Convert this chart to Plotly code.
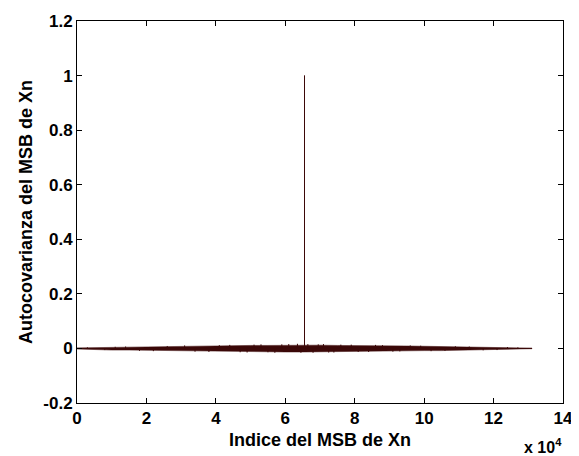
import plotly.graph_objects as go

# ---- data ----
# main autocovariance series key points (index, value)
series_x = [1, 65535, 65536, 65537, 131071]
series_y = [0.0, 0.0, 1.0, 0.0, 0.0]

# envelope of the dense noise band around zero (estimated)
band_x = [1, 5000, 10000, 15000, 20000, 25000, 30000, 35000, 40000, 45000,
          50000, 55000, 60000, 65536, 70000, 75000, 80000, 85000, 90000,
          95000, 100000, 105000, 110000, 115000, 120000, 125000, 131071]
band_hi = [0.002, 0.003, 0.004, 0.006, 0.006, 0.007, 0.008, 0.009, 0.010, 0.010,
           0.011, 0.011, 0.012, 0.012, 0.012, 0.011, 0.011, 0.010, 0.009,
           0.009, 0.008, 0.007, 0.006, 0.005, 0.004, 0.003, 0.001]
band_lo = [-0.002, -0.004, -0.006, -0.006, -0.007, -0.008, -0.009, -0.010, -0.010, -0.011,
           -0.012, -0.012, -0.013, -0.013, -0.013, -0.012, -0.011, -0.011, -0.010,
           -0.009, -0.008, -0.008, -0.007, -0.006, -0.005, -0.003, -0.001]

# isolated excursions sticking out of the band (estimated)
out_x = [3000, 8000, 11000, 14000, 18000, 22000, 26000, 31000, 34000, 38000, 41000,
         44000, 47000, 49000, 51000, 53000, 55000, 57000, 59000, 61000, 63500, 64500,
         66500, 68000, 69500, 71000, 72500, 74000, 76000, 79000, 81000, 84000, 86000,
         88000, 91000, 93000, 96000, 99000, 102000, 106000, 109000, 113000, 117000,
         121000, 124000, 127000]
out_y = [0.004, -0.006, 0.006, 0.007, -0.009, -0.010, 0.009, 0.011, -0.012, -0.013, 0.012,
         0.013, -0.014, -0.015, 0.014, 0.015, -0.014, -0.016, 0.015, 0.016, 0.017, -0.016,
         0.016, -0.016, 0.015, 0.016, -0.015, -0.015, 0.014, 0.014, -0.013, -0.013, 0.013,
         0.012, -0.012, -0.011, 0.011, 0.010, -0.010, -0.009, 0.008, 0.007, -0.007,
         -0.006, 0.005, 0.004]

x_ticks = [0, 20000, 40000, 60000, 80000, 100000, 120000, 140000]
x_ticktext = ["0", "2", "4", "6", "8", "10", "12", "14"]
y_ticks = [-0.2, 0, 0.2, 0.4, 0.6, 0.8, 1.0, 1.2]
y_ticktext = ["-0.2", "0", "0.2", "0.4", "0.6", "0.8", "1", "1.2"]

COLOR = "#3b0808"
FONT = "Liberation Sans, Arial, sans-serif"

fig = go.Figure()

# noise band
fig.add_trace(go.Scatter(
    x=band_x + band_x[::-1],
    y=band_hi + band_lo[::-1],
    fill="toself", fillcolor=COLOR, mode="lines",
    line=dict(color=COLOR, width=0.5), hoverinfo="skip", showlegend=False))

# excursions as vertical segments
seg_x, seg_y = [], []
for xv, yv in zip(out_x, out_y):
    seg_x += [xv, xv, None]
    seg_y += [0, yv, None]
fig.add_trace(go.Scatter(x=seg_x, y=seg_y, mode="lines",
                         line=dict(color=COLOR, width=1), showlegend=False))

# main series (baseline + spike)
fig.add_trace(go.Scatter(x=series_x, y=series_y, mode="lines",
                         line=dict(color=COLOR, width=1), showlegend=False))

tick_font = dict(family=FONT, size=17, color="black", weight="bold")
title_font = dict(family=FONT, size=18, color="black", weight="bold")

axis_common = dict(showline=True, linecolor="black", linewidth=1, mirror="allticks",
                   ticks="inside", ticklen=5, tickcolor="black", tickwidth=1,
                   showgrid=False, zeroline=False, tickfont=tick_font, automargin=False)

fig.update_xaxes(range=[0, 140000], tickvals=x_ticks, ticktext=x_ticktext,
                 title=dict(text="Indice del MSB de Xn", standoff=5, font=title_font),
                 **axis_common)
fig.update_yaxes(range=[-0.2, 1.2], tickvals=y_ticks, ticktext=y_ticktext,
                 title=dict(text="Autocovarianza del MSB de Xn", standoff=6, font=title_font),
                 **axis_common)

fig.add_annotation(text="x 10<sup>4</sup>", xref="paper", yref="paper",
                   x=1.0, y=0, xanchor="right", yanchor="bottom", yshift=-54,
                   showarrow=False, borderpad=0,
                   font=dict(family=FONT, size=16, color="black", weight="bold"))

# page body has an 8px default margin, so the figure is sized to fit the window
fig.update_layout(width=571, height=448, paper_bgcolor="white", plot_bgcolor="white",
                  margin=dict(l=69, r=16, t=13, b=53), showlegend=False)

fig.write_html("out.html")
